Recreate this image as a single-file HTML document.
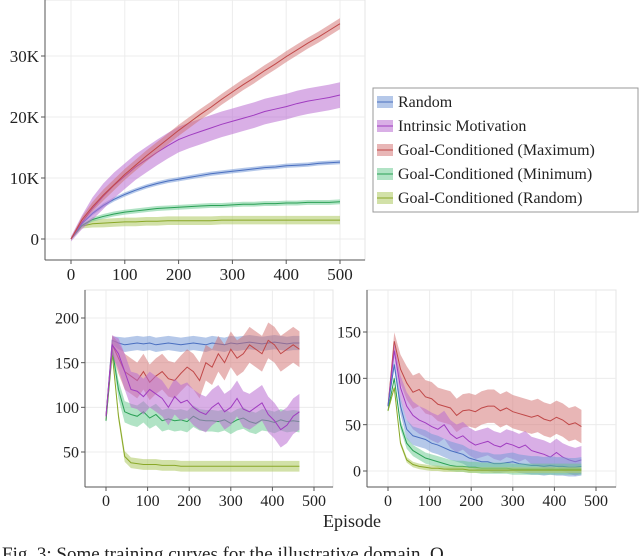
<!DOCTYPE html>
<html><head><meta charset="utf-8">
<style>
html,body{margin:0;padding:0;background:#fff;}
body{width:640px;height:556px;overflow:hidden;font-family:"Liberation Serif",serif;}
svg{position:absolute;left:0;top:0;}
text{font-family:"Liberation Serif",serif;fill:#222;}
</style></head>
<body>
<svg id="chart" width="640" height="556"></svg>
<script>
// ---- data ----
const topX = [0,20,40,60,80,100,120,140,160,180,200,220,240,260,280,300,320,340,360,380,400,420,440,460,480,500];
const topRed = [0,3.1,5.3,7.2,8.9,10.6,12.1,13.6,15.0,16.4,17.8,19.1,20.4,21.6,22.9,24.1,25.3,26.4,27.6,28.7,29.9,31.0,32.1,33.1,34.2,35.3];
const topPurple = [0,2.7,5,7,8.8,10.3,11.8,13,14.2,15.3,16.3,17,17.6,18.2,18.8,19.3,19.8,20.3,20.9,21.3,21.7,22.2,22.6,22.9,23.2,23.6];
const topBlue = [0,2.5,4.2,5.5,6.5,7.3,8,8.6,9.1,9.5,9.8,10.1,10.4,10.7,10.9,11.1,11.3,11.5,11.7,11.8,12,12.1,12.2,12.4,12.5,12.6];
const topGreen = [0,2.2,3.2,3.7,4.1,4.4,4.6,4.8,5,5.1,5.2,5.3,5.4,5.5,5.5,5.6,5.7,5.7,5.8,5.8,5.9,5.9,6,6,6,6.1];
const topOlive = [0,2.1,2.5,2.6,2.7,2.8,2.8,2.9,2.9,3,3,3,3,3,3.1,3.1,3.1,3.1,3.1,3.1,3.1,3.1,3.1,3.1,3.1,3.1];
const topYTicks = [0,10,20,30];
const topYLabels = ["0","10K","20K","30K"];
const xTicks = [0,100,200,300,400,500];

const botX = [0,15,30,45,60,75,90,105,120,135,150,165,180,195,210,225,240,255,270,285,300,315,330,345,360,375,390,405,420,435,450,465];
const lBlue = [90,175,172,170,171,172,171,172,170,171,172,171,170,171,172,171,170,172,171,170,172,171,172,173,172,171,172,173,172,171,172,172];
const lRed = [90,170,155,140,135,130,140,128,135,140,132,130,138,145,140,130,150,145,160,150,165,155,160,170,165,160,175,170,160,165,170,165];
const lPurple = [90,170,160,140,120,118,112,120,115,110,100,112,105,108,100,95,92,100,105,95,100,110,98,95,100,105,92,85,75,80,90,95];
const lGreen = [85,165,120,95,92,90,95,88,92,85,87,85,86,84,90,86,85,85,84,86,82,86,88,84,82,86,85,83,86,84,85,84];
const lOlive = [85,160,90,45,38,37,36,36,36,35,35,35,34,34,34,34,34,34,34,34,34,34,34,34,34,34,34,34,34,34,34,34];
const rRed = [70,140,110,95,85,88,80,78,72,70,68,60,65,66,64,68,70,70,65,68,64,62,60,58,60,56,54,58,55,50,52,48];
const rPurple = [70,130,90,70,60,55,52,48,45,50,40,35,38,32,28,30,32,28,26,30,28,25,28,22,20,18,15,20,15,12,10,12];
const rBlue = [70,115,70,45,38,36,34,30,28,25,22,20,18,14,12,10,10,8,8,9,10,8,7,6,6,5,6,5,5,4,4,5];
const rGreen = [65,100,50,30,22,18,14,12,10,8,6,5,5,4,4,3,3,3,3,3,2,2,2,2,2,2,2,2,2,2,2,2];
const rOlive = [65,90,30,12,7,5,4,3,3,2,2,2,2,1,1,1,1,1,1,1,1,1,1,1,1,1,1,1,1,1,1,1];
const lBands = [8,20,20,12,6];
const rBands = [18,15,10,6,3];
const lYTicks = [50,100,150,200];
const rYTicks = [0,50,100,150];
const legendLabels = ["Random","Intrinsic Motivation","Goal-Conditioned (Maximum)","Goal-Conditioned (Minimum)","Goal-Conditioned (Random)"];

const COLORS = {
  blue:{line:"#4a6fc0",fill:"rgba(120,155,215,0.55)"},
  purple:{line:"#a03cc0",fill:"rgba(185,110,210,0.55)"},
  red:{line:"#c04848",fill:"rgba(210,110,110,0.5)"},
  green:{line:"#2aa055",fill:"rgba(100,200,140,0.5)"},
  olive:{line:"#8aa828",fill:"rgba(180,205,110,0.6)"}
};
const NS="http://www.w3.org/2000/svg";
const svgEl=document.getElementById('chart');
function mk(tag,attrs,parent){const e=document.createElementNS(NS,tag);for(const k in attrs)e.setAttribute(k,attrs[k]);(parent||svgEl).appendChild(e);return e;}

function axes(cfg){
  const g=mk('g',{});
  
  
  const sx=v=>cfg.x0+(v-cfg.xmin)*(cfg.x1-cfg.x0)/(cfg.xmax-cfg.xmin);
  const sy=v=>cfg.y0+(v-cfg.ymin)*(cfg.y1-cfg.y0)/(cfg.ymax-cfg.ymin);
  mk('rect',{x:cfg.L,y:cfg.T,width:cfg.R-cfg.L,height:cfg.B-cfg.T,fill:'none',stroke:'#e4e4e4','stroke-width':1},g);
  cfg.xt.forEach(v=>{mk('line',{x1:sx(v),x2:sx(v),y1:cfg.T,y2:cfg.B,stroke:'#ececec'},g);});
  cfg.yt.forEach(v=>{mk('line',{x1:cfg.L,x2:cfg.R,y1:sy(v),y2:sy(v),stroke:'#ececec'},g);});
  mk('line',{x1:cfg.L,x2:cfg.L,y1:cfg.T,y2:cfg.B,stroke:'#555'},g);
  mk('line',{x1:cfg.L,x2:cfg.R,y1:cfg.B,y2:cfg.B,stroke:'#555'},g);
  cfg.xt.forEach(v=>{
    mk('line',{x1:sx(v),x2:sx(v),y1:cfg.B,y2:cfg.B+4,stroke:'#555'},g);
    const t=mk('text',{x:sx(v),y:cfg.B+cfg.fs+3,'text-anchor':'middle','font-size':cfg.fs},g);
    
    
    t.textContent=v;
  });
  cfg.yt.forEach((v,i)=>{
    mk('line',{x1:cfg.L-4,x2:cfg.L,y1:sy(v),y2:sy(v),stroke:'#555'},g);
    const t=mk('text',{x:cfg.L-6,y:sy(v)+cfg.fs*0.35,'text-anchor':'end','font-size':cfg.fs},g);
    
    
    t.textContent=cfg.yl?cfg.yl[i]:v;
  });
  return {g,sx,sy};
}
function series(ax,xs,ys,band,col,name){
  const up=xs.map((x,i)=>ax.sx(x)+','+ax.sy(ys[i]+band*Math.min(1,i/3+0.2))).join(' ');
  const dn=xs.map((x,i)=>ax.sx(x)+','+ax.sy(ys[i]-band*Math.min(1,i/3+0.2))).reverse().join(' ');
  const p=mk('polygon',{points:up+' '+dn,fill:col.fill,stroke:'none'},ax.g);
  
  
  const l=mk('polyline',{points:xs.map((x,i)=>ax.sx(x)+','+ax.sy(ys[i])).join(' '),fill:'none',stroke:col.line,'stroke-width':1},ax.g);
  
  
}

const topAx=axes({name:'top-cumulative-chart',L:45,R:365,T:0,B:260,x0:71,x1:340,xmin:0,xmax:500,y0:239,y1:56,ymin:0,ymax:30,xt:xTicks,yt:topYTicks,yl:topYLabels,fs:17});
series(topAx,topX,topOlive,0.7,COLORS.olive,'top-goal-random');
series(topAx,topX,topGreen,0.4,COLORS.green,'top-goal-minimum');
series(topAx,topX,topBlue,0.35,COLORS.blue,'top-random');
series(topAx,topX,topPurple,2.1,COLORS.purple,'top-intrinsic');
series(topAx,topX,topRed,0.9,COLORS.red,'top-goal-maximum');

const lg=mk('g',{});


mk('rect',{x:373,y:88,width:265,height:124,fill:'#fff',stroke:'#999'},lg);
const lcols=[COLORS.blue,COLORS.purple,COLORS.red,COLORS.green,COLORS.olive];
legendLabels.forEach((lab,i)=>{
  const y=102+i*24;
  const e=mk('g',{},lg);
  
  
  mk('rect',{x:377,y:y-6,width:16,height:12,fill:lcols[i].fill},e);
  mk('line',{x1:377,x2:393,y1:y,y2:y,stroke:lcols[i].line},e);
  const t=mk('text',{x:398,y:y+5,'font-size':16},e);
  t.textContent=lab;
});

const bl=axes({name:'bottom-left-chart',L:85,R:333,T:290,B:487,x0:106,x1:314,xmin:0,xmax:500,y0:452,y1:318,ymin:50,ymax:200,xt:xTicks,yt:lYTicks,fs:16});
series(bl,botX,lOlive,lBands[4],COLORS.olive,'left-goal-random');
series(bl,botX,lGreen,lBands[3],COLORS.green,'left-goal-minimum');
series(bl,botX,lBlue,lBands[0],COLORS.blue,'left-random');
series(bl,botX,lRed,lBands[1],COLORS.red,'left-goal-maximum');
series(bl,botX,lPurple,lBands[2],COLORS.purple,'left-intrinsic');

const br=axes({name:'bottom-right-chart',L:367,R:616,T:290,B:487,x0:388,x1:596,xmin:0,xmax:500,y0:471,y1:332,ymin:0,ymax:150,xt:xTicks,yt:rYTicks,fs:16});
series(br,botX,rRed,rBands[0],COLORS.red,'right-goal-maximum');
series(br,botX,rPurple,rBands[1],COLORS.purple,'right-intrinsic');
series(br,botX,rBlue,rBands[2],COLORS.blue,'right-random');
series(br,botX,rGreen,rBands[3],COLORS.green,'right-goal-minimum');
series(br,botX,rOlive,rBands[4],COLORS.olive,'right-goal-random');

const xt=mk('text',{x:352,y:527,'text-anchor':'middle','font-size':18});


xt.textContent='Episode';
const cap=mk('text',{x:2,y:560,'font-size':19});


cap.textContent='Fig. 3: Some training curves for the illustrative domain. O';
</script>
</body></html>
